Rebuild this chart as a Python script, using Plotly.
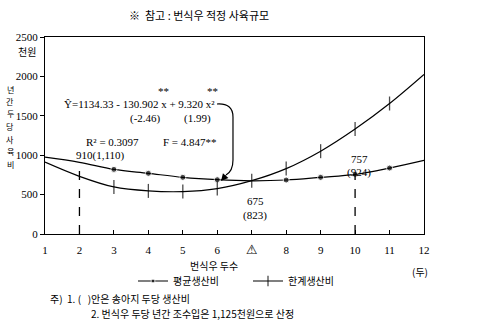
import plotly.graph_objects as go

# ---- data ----
heads = [1, 2, 3, 4, 5, 6, 7, 8, 9, 10, 11, 12]
avg_cost = [975, 910, 820, 770, 719, 689, 675, 685, 719, 757, 837, 934]        # 평균생산비
marg_cost = [912, 732, 597, 547, 538, 576, 677, 830, 1051, 1332, 1656, 2025]   # 한계생산비
avg_marked = [3, 4, 5, 6, 8, 9, 10, 11]
marg_marked = [3, 4, 5, 6, 7, 8, 9, 10, 11]
x_ticktext = ["1", "2", "3", "4", "5", "6",
              "<span style='font-family:DejaVu Sans;font-size:13px'>⚠</span>",
              "8", "9", "10", "11", "12"]
y_ticks = [0, 500, 1000, 1500, 2000, 2500]
y_title_chars = ["년", "간", "두", "당", "사", "육", "비"]

W, H = 488, 332
L, R, T, B = 45, 64, 37, 98
PW, PH = W - L - R, H - T - B

def px(x, y):
    return (x - L) / PW, (H - B - y) / PH

SERIF = "Liberation Serif"
KR = "Noto Sans CJK KR"

fig = go.Figure()
fig.add_trace(go.Scatter(
    x=heads, y=avg_cost, mode="lines+markers", name="평균생산비",
    line=dict(color="black", width=1.2, shape="spline"),
    marker=dict(symbol="circle", color="black",
                size=[6 if h in avg_marked else 0 for h in heads]),
))
fig.add_trace(go.Scatter(
    x=heads, y=marg_cost, mode="lines+markers", name="한계생산비",
    line=dict(color="black", width=1.2, shape="spline"),
    marker=dict(symbol="line-ns", color="black",
                size=[10 if h in marg_marked else 0 for h in heads],
                line=dict(color="black", width=1.3)),
))

# dashed guide lines
for xv in (2, 10):
    fig.add_shape(type="line", xref="x", yref="y", x0=xv, x1=xv, y0=0,
                  y1=avg_cost[heads.index(xv)],
                  line=dict(color="black", width=1.3, dash="dash"))

ann = []
def text(x, y, s, size=11, font=SERIF, xanchor="center"):
    xp, yp = px(x, y)
    ann.append(dict(x=xp, y=yp, xref="paper", yref="paper", text=s, showarrow=False,
                    xanchor=xanchor, yanchor="middle",
                    font=dict(family=font, size=size, color="black")))

text(199, 15, "※  참고 : 번식우 적정 사육규모", 11, KR)
text(27, 51, "천원", 10, KR)
for ch, yy in zip(y_title_chars, [89, 101.5, 114, 126.5, 139, 151.5, 164]):
    text(10, yy, ch, 8, KR)
text(163, 91, "**", 11)
text(212, 91, "**", 11)
text(62, 104, "Ŷ=1134.33 - 130.902 x + 9.320 x²", 11, SERIF, "left")
text(145, 118, "(-2.46)", 11)
text(197, 118, "(1.99)", 11)
text(112, 142, "R² = 0.3097", 11)
text(190, 142, "F = 4.847**", 11)
text(100, 155, "910(1,110)", 11)
text(255, 201, "675", 11)
text(255, 215, "(823)", 11)
text(359, 159, "757", 11)
text(359, 172, "(924)", 11)
text(214, 265, "번식우 두수", 10, KR)
text(420, 271, "(두)", 10, KR)
text(48, 298, "주)  1. (   )안은 송아지 두당 생산비", 10, KR, "left")
text(89, 313, "2. 번식우 두당 년간 조수입은 1,125천원으로 산정", 10, KR, "left")

# curved arrow from the equation to the point x=6
p = [px(217, 104), px(233, 103), px(233, 117), px(233, 160), px(233, 171), px(226, 175)]
path = "M {} {} Q {} {} {} {} L {} {} Q {} {} {} {}".format(
    *[f"{v:.4f}" for pt in p for v in pt])
fig.add_shape(type="path", xref="paper", yref="paper", path=path,
              line=dict(color="black", width=1.2))
tip = px(221, 181)
ann.append(dict(x=tip[0], y=tip[1], xref="paper", yref="paper", text="",
                showarrow=True, ax=6, ay=-7, arrowhead=2, arrowsize=1.2,
                arrowwidth=1.2, arrowcolor="black"))

fig.update_layout(
    width=W, height=H, margin=dict(l=L, r=R, t=T, b=B),
    paper_bgcolor="white", plot_bgcolor="white",
    showlegend=True,
    legend=dict(orientation="h", x=px(133, 0)[0], y=px(0, 281)[1],
                xanchor="left", yanchor="middle",
                font=dict(family=KR, size=10, color="black"),
                entrywidth=70, entrywidthmode="pixels", bgcolor="rgba(0,0,0,0)"),
    annotations=ann,
    xaxis=dict(range=[1, 12], tickvals=heads, ticktext=x_ticktext,
               showline=True, linecolor="black", linewidth=1.3, mirror=True,
               ticks="inside", ticklen=4, tickcolor="black", showgrid=False,
               zeroline=False, ticklabelstandoff=6,
               tickfont=dict(family=SERIF, size=11, color="black")),
    yaxis=dict(range=[0, 2500], tickvals=y_ticks, ticktext=[str(v) for v in y_ticks],
               showline=True, linecolor="black", linewidth=1.3, mirror=True,
               ticks="outside", ticklen=4, tickcolor="black", showgrid=False,
               zeroline=False,
               tickfont=dict(family=SERIF, size=11, color="black")),
)

fig.write_html("out.html")
